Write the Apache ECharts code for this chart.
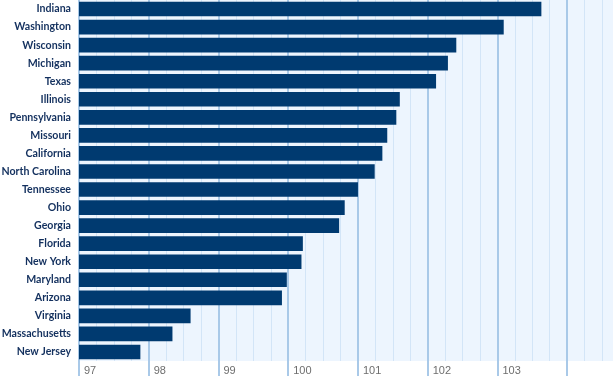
<!DOCTYPE html>
<html>
<head>
<meta charset="utf-8">
<script src="https://cdn.jsdelivr.net/npm/echarts@6/dist/echarts.min.js"></script>
<style>html,body{margin:0;padding:0;background:#fff}#c{width:613px;height:381px}</style>
</head>
<body>
<div id="c"></div>
<script>
var states = ["Indiana","Washington","Wisconsin","Michigan","Texas","Illinois","Pennsylvania","Missouri","California","North Carolina","Tennessee","Ohio","Georgia","Florida","New York","Maryland","Arizona","Virginia","Massachusetts","New Jersey"];
var values = [103.63,103.09,102.41,102.29,102.12,101.60,101.55,101.42,101.35,101.24,101.00,100.81,100.73,100.21,100.19,99.98,99.91,98.60,98.34,97.88];
var tickLabels = ["97","98","99","100","101","102","103"];

// pick the narrowest available bold face for the state labels
var candidates = [
  {style: 'condensed', family: "'Liberation Sans Narrow', 'Liberation Sans', sans-serif"},
  {style: 'condensed', family: "'DejaVu Sans Condensed', 'DejaVu Sans', sans-serif"},
  {style: 'normal', family: "Lato, sans-serif"},
  {style: 'normal', family: "Roboto, sans-serif"},
  {style: 'normal', family: "'Liberation Sans', sans-serif"}
];
var ctx = document.createElement('canvas').getContext('2d');
var best = null;
candidates.forEach(function (c) {
  ctx.font = (c.style === 'condensed' ? 'condensed ' : '') + 'bold 11px ' + c.family;
  var w = ctx.measureText('Massachusetts').width;
  if (!best || w < best.w - 0.5) best = {c: c, w: w};
});
var labelSize = Math.min(11, Math.floor(11 * 70 / best.w * 10) / 10);

var chart = echarts.init(document.getElementById('c'));
var MAJOR = '#a9c9e8', MINOR = '#d3e5f7';
chart.setOption({
  animation: false,
  grid: {left: 79, right: -3, top: 0, bottom: 20, show: true, backgroundColor: '#edf5fe', borderWidth: 0,
    containLabel: false, outerBoundsMode: 'none'},
  xAxis: [{
    type: 'value', min: 97, max: 104.7, interval: 1,
    axisLine: {show: false},
    axisTick: {show: true, length: 15, lineStyle: {color: MAJOR, width: 2}},
    splitLine: {show: true, lineStyle: {color: MAJOR, width: 2}},
    axisLabel: {
      align: 'left', margin: 4, padding: [0,0,0,5], fontSize: 11, color: '#6e6e6e',
      fontFamily: "'Liberation Sans', sans-serif",
      formatter: function (v) { var s = String(v); return tickLabels.indexOf(s) >= 0 ? s : ''; }
    },
    z: 1
  }, {
    type: 'value', min: 97, max: 104.7, interval: 0.25, position: 'bottom',
    axisLine: {show: false}, axisTick: {show: false}, axisLabel: {show: false},
    splitLine: {show: true, lineStyle: {color: MINOR, width: 1}}
  }],
  yAxis: {
    type: 'category', data: states, inverse: true,
    axisLine: {show: false}, axisTick: {show: false}, splitLine: {show: false},
    axisLabel: {margin: 8, fontSize: labelSize, fontStyle: best.c.style === 'condensed' ? 'condensed' : 'normal',
      fontWeight: 'bold', color: '#13305e', fontFamily: best.c.family}
  },
  series: [{
    type: 'bar', data: values, xAxisIndex: 0, barCategoryGap: '19%',
    itemStyle: {color: '#003a70'}, z: 3
  }]
});
</script>
</body>
</html>
